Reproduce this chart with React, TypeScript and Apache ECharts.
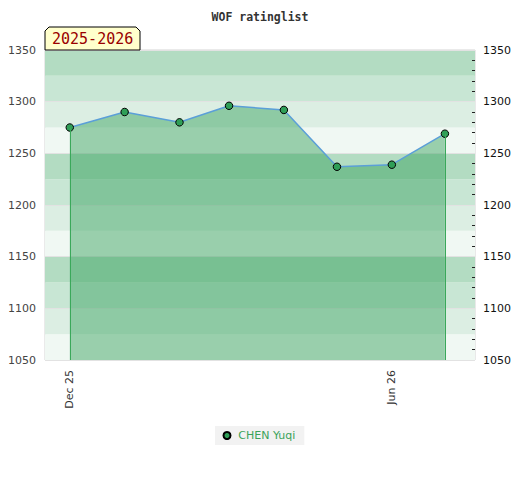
import React, { useEffect, useRef } from "react";
import * as echarts from "echarts";

const dates = [
  "2025-12-01",
  "2026-01-01",
  "2026-02-01",
  "2026-03-01",
  "2026-04-01",
  "2026-05-01",
  "2026-06-01",
  "2026-07-01",
];
const ratings = [1275, 1290, 1280, 1296, 1292, 1237, 1239, 1269];
const xLabelDates = ["2025-12-01", "2026-06-01"];
const xRange = ["2025-11-17", "2026-07-18"];
const yMin = 1050;
const yMax = 1350;
const seriesName = "CHEN Yuqi";
const titleText = "WOF ratinglist";
const seasonText = "2025-2026";
const bandColors = ["#f0f8f3", "#dceee3", "#c8e6d4", "#b3dcc2"];
const monthNames = ["Jan", "Feb", "Mar", "Apr", "May", "Jun", "Jul", "Aug", "Sep", "Oct", "Nov", "Dec"];

const FONT = "DejaVu Sans";
const MONO = "DejaVu Sans Mono";

function ts(s: string): number {
  const [y, m, d] = s.split("-").map(Number);
  return Date.UTC(y, m - 1, d);
}

export default function App() {
  const ref = useRef<HTMLDivElement>(null);
  useEffect(() => {
    if (!ref.current) return;
    const chart = echarts.init(ref.current, null, { renderer: "svg" });
    const xs = dates.map(ts);
    const data = xs.map((x, i) => [x, ratings[i]]);
    const last = dates.length - 1;
    chart.setOption({
      animation: false,
      title: {
        text: titleText,
        left: "center",
        top: 6,
        textStyle: { fontFamily: MONO, fontSize: 11.5, fontWeight: "bold", color: "#333" },
      },
      grid: {
        left: 45,
        right: 45,
        top: 50,
        bottom: 120,
        show: true,
        borderColor: "#d4d4d4",
        borderWidth: 1,
        backgroundColor: "transparent",
      },
      legend: {
        data: [seriesName],
        left: 215,
        top: 426,
        icon: "circle",
        itemWidth: 12.5,
        itemHeight: 7,
        padding: [4, 9, 4, 7.5],
        backgroundColor: "#f2f2f2",
        textStyle: { fontFamily: FONT, fontSize: 11, color: "#3aa35a" },
      },
      xAxis: {
        type: "value",
        min: ts(xRange[0]),
        max: ts(xRange[1]),
        axisLine: { show: false },
        axisTick: { show: false },
        splitLine: { show: false },
        axisLabel: {
          customValues: xLabelDates.map(ts),
          rotate: 90,
          margin: 10,
          fontFamily: FONT,
          fontSize: 11,
          color: "#333",
          formatter: (v: number) => {
            const d = new Date(v);
            return monthNames[d.getUTCMonth()] + " " + String(d.getUTCFullYear()).slice(2);
          },
        },
      },
      yAxis: [
        {
          type: "value",
          min: yMin,
          max: yMax,
          interval: 50,
          position: "left",
          axisLine: { show: false },
          axisTick: { show: false },
          axisLabel: { fontFamily: FONT, fontSize: 11, color: "#444", margin: 9, formatter: (v: number) => String(v) },
          splitLine: { show: true, lineStyle: { color: "#e2e2e2", width: 1 } },
          z: 1,
        },
        {
          type: "value",
          min: yMin,
          max: yMax,
          interval: 50,
          position: "right",
          axisLine: { show: false },
          axisTick: { show: true, inside: true, length: 6, lineStyle: { color: "#222" } },
          minorTick: { show: true, splitNumber: 5, length: 3, lineStyle: { color: "#222" } },
          axisLabel: { fontFamily: FONT, fontSize: 11, color: "#111", margin: 8, formatter: (v: number) => String(v) },
          splitLine: { show: false },
        },
        {
          type: "value",
          min: yMin,
          max: yMax,
          interval: 25,
          position: "left",
          axisLine: { show: false },
          axisTick: { show: false },
          axisLabel: { show: false },
          splitLine: { show: false },
          splitArea: { show: true, areaStyle: { color: bandColors } },
          z: 0,
        },
      ],
      series: [
        {
          name: seriesName,
          type: "line",
          data,
          yAxisIndex: 0,
          symbol: "circle",
          symbolSize: 7.5,
          itemStyle: { color: "#2f9e57", borderColor: "#000", borderWidth: 1 },
          lineStyle: { color: "#5b9fd8", width: 1.5 },
          areaStyle: { color: "rgba(50,160,90,0.46)", opacity: 1, origin: "start" },
          z: 3,
          markLine: {
            silent: true,
            symbol: ["none", "none"],
            label: { show: false },
            lineStyle: { color: "#3aa85a", type: "solid", width: 1 },
            emphasis: { disabled: true },
            data: [
              [{ coord: [xs[0], ratings[0]] }, { coord: [xs[0], yMin] }],
              [{ coord: [xs[last], ratings[last]] }, { coord: [xs[last], yMin] }],
            ],
          },
        },
      ],
      graphic: [
        {
          type: "polygon",
          z: 100,
          shape: {
            points: [
              [45, 50],
              [45, 31],
              [49, 27],
              [136, 27],
              [140, 31],
              [140, 50],
            ],
          },
          style: { fill: "#ffffcc", stroke: "#000", lineWidth: 1 },
        },
        {
          type: "text",
          z: 101,
          x: 52,
          y: 39,
          style: {
            text: seasonText,
            fill: "#990000",
            font: "15px '" + MONO + "'",
            verticalAlign: "middle",
            align: "left",
          },
        },
      ],
    });
    return () => chart.dispose();
  }, []);
  return <div ref={ref} style={{ position: "absolute", left: 0, top: 0, width: 520, height: 480 }} />;
}
